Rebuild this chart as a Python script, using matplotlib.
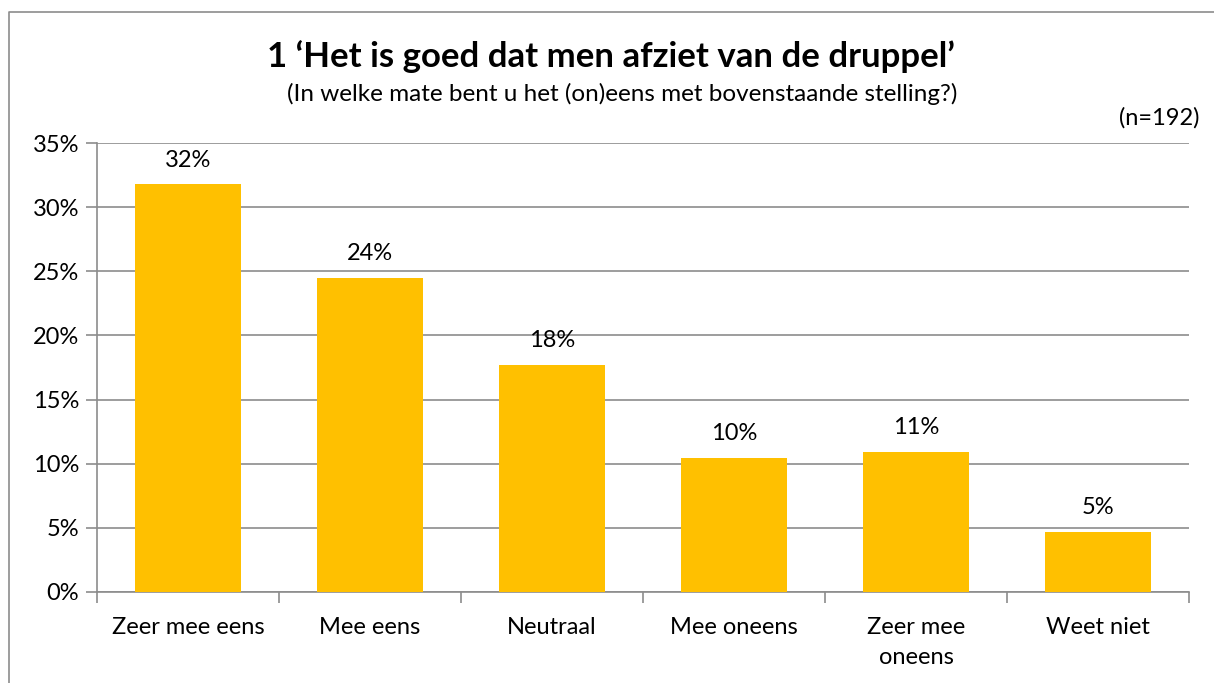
import matplotlib.pyplot as plt
from matplotlib.lines import Line2D

plt.rcParams['font.family'] = ['Lato', 'DejaVu Sans']

categories = ['Zeer mee eens', 'Mee eens', 'Neutraal', 'Mee oneens', 'Zeer mee\noneens', 'Weet niet']
counts = [61, 47, 34, 20, 21, 9]
n_total = 192
values = [c / n_total * 100 for c in counts]
labels = ['%d%%' % round(v) for v in values]
yticks = [0, 5, 10, 15, 20, 25, 30, 35]

FS = 17

fig = plt.figure(figsize=(12.14, 6.83), dpi=100)
# outer chart frame (top and left edges only visible)
fx, fy = 8.5 / 1214, 1 - 11.5 / 683
fig.lines.append(Line2D([fx, fx, 1.0], [0.0, fy, fy], transform=fig.transFigure,
                        color='#8c8c8c', linewidth=1.2))

ax = fig.add_axes([97 / 1214, 1 - 592 / 683, (1189 - 97) / 1214, (592 - 143) / 683])
x = range(len(categories))
ax.bar(x, values, width=0.58, color='#ffc000', zorder=3)
ax.set_xlim(-0.5, len(categories) - 0.5)
ax.set_ylim(0, 35)
ax.set_yticks(yticks)
ax.set_yticklabels(['%d%%' % t for t in yticks], fontsize=FS)
ax.yaxis.grid(True, color='#8c8c8c', linewidth=1.2, zorder=0)
ax.tick_params(axis='y', length=8, width=1.2, color='#8c8c8c', pad=5)

ax.set_xticks([i - 0.5 for i in range(len(categories) + 1)], minor=False)
ax.set_xticklabels([])
ax.set_xticks(list(x), minor=True)
ax.set_xticklabels(categories, minor=True, fontsize=FS, linespacing=1.55)
ax.tick_params(axis='x', which='major', length=8, width=1.2, color='#8c8c8c')
ax.tick_params(axis='x', which='minor', length=0, pad=18)

for s in ['top', 'right']:
    ax.spines[s].set_visible(False)
for s in ['left', 'bottom']:
    ax.spines[s].set_color('#8c8c8c')
    ax.spines[s].set_linewidth(1.2)

for i, (v, lab) in enumerate(zip(values, labels)):
    ax.annotate(lab, (i, v), xytext=(0, 10), textcoords='offset points',
                ha='center', va='bottom', fontsize=FS)

fig.text(611 / 1214, 1 - 57 / 683, '1 \u2018Het is goed dat men afziet van de druppel\u2019',
         ha='center', va='center', fontsize=25, fontweight='bold')
fig.text(622 / 1214, 1 - 94 / 683, '(In welke mate bent u het (on)eens met bovenstaande stelling?)',
         ha='center', va='center', fontsize=17.5)
fig.text(1199 / 1214, 1 - 118 / 683, '(n=%d)' % n_total, ha='right', va='center', fontsize=FS)

fig.savefig('out.png', dpi=100)
